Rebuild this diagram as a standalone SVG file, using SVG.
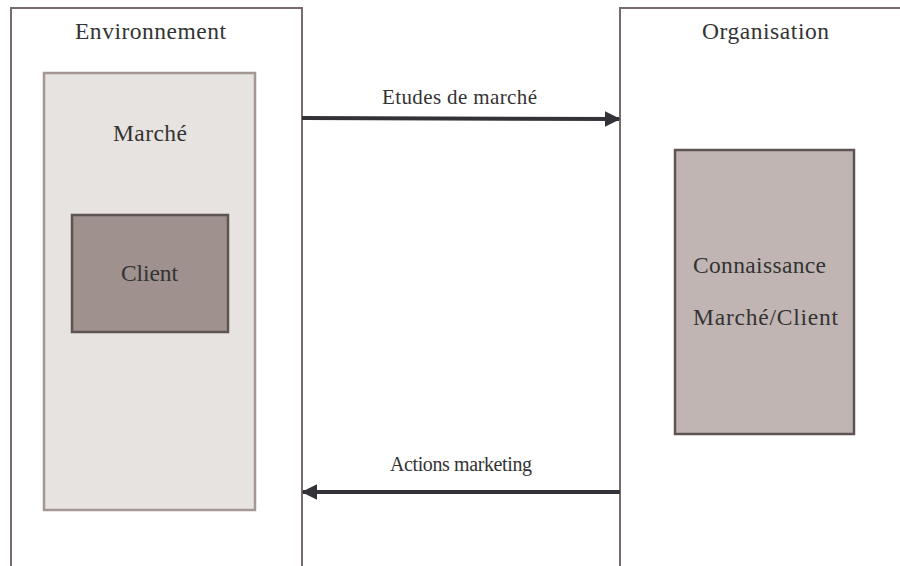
<svg xmlns="http://www.w3.org/2000/svg" width="900" height="566" viewBox="0 0 900 566">
<defs>
<marker id="ah" markerWidth="4" markerHeight="4" refX="3.6" refY="2" orient="auto" markerUnits="strokeWidth">
<path d="M0,0 L4,2 L0,4 z" fill="#333238"/>
</marker>
<style>
.t{font-family:"Liberation Serif","DejaVu Serif",serif;fill:#333;}
.big{font-size:23.5px;}
.sm{font-size:20px;}
.outer{fill:#fff;stroke:#776b6b;stroke-width:2;}
.conn{stroke:#333238;stroke-width:4;fill:none;marker-end:url(#ah);}
</style>
</defs>
<rect width="900" height="566" fill="#fff"/>
<g id="environnement">
<rect class="outer" x="11" y="8" width="291" height="570"/>
<text class="t big" x="75" y="39" textLength="151" lengthAdjust="spacing">Environnement</text>
</g>
<g id="organisation">
<rect class="outer" x="620" y="8" width="300" height="570"/>
<text class="t big" x="702" y="39" textLength="127" lengthAdjust="spacing">Organisation</text>
</g>
<g id="marche">
<rect x="44" y="73" width="211" height="437" fill="#e7e3e0" stroke="#a59894" stroke-width="2.5"/>
<text class="t big" x="113" y="141" textLength="74" lengthAdjust="spacing">Marché</text>
</g>
<g id="client">
<rect x="72" y="215" width="156" height="117" fill="#9e918e" stroke="#5e5553" stroke-width="2.5"/>
<text class="t big" x="121" y="281" textLength="57" lengthAdjust="spacing">Client</text>
</g>
<g id="connaissance">
<rect x="675" y="150" width="179" height="284" fill="#c0b5b2" stroke="#5e5553" stroke-width="2.5"/>
<text class="t big" x="693" y="273" textLength="133" lengthAdjust="spacing">Connaissance</text>
<text class="t big" x="693" y="325" textLength="145" lengthAdjust="spacing">Marché/Client</text>
</g>
<g id="connectors">
<line class="conn" x1="302" y1="118" x2="619" y2="119"/>
<text class="t sm" x="382" y="104" textLength="155" lengthAdjust="spacing" style="font-size:21px">Etudes de marché</text>
<line class="conn" x1="620" y1="492" x2="303" y2="492"/>
<text class="t sm" x="390" y="471" textLength="142" lengthAdjust="spacing">Actions marketing</text>
</g>
</svg>
